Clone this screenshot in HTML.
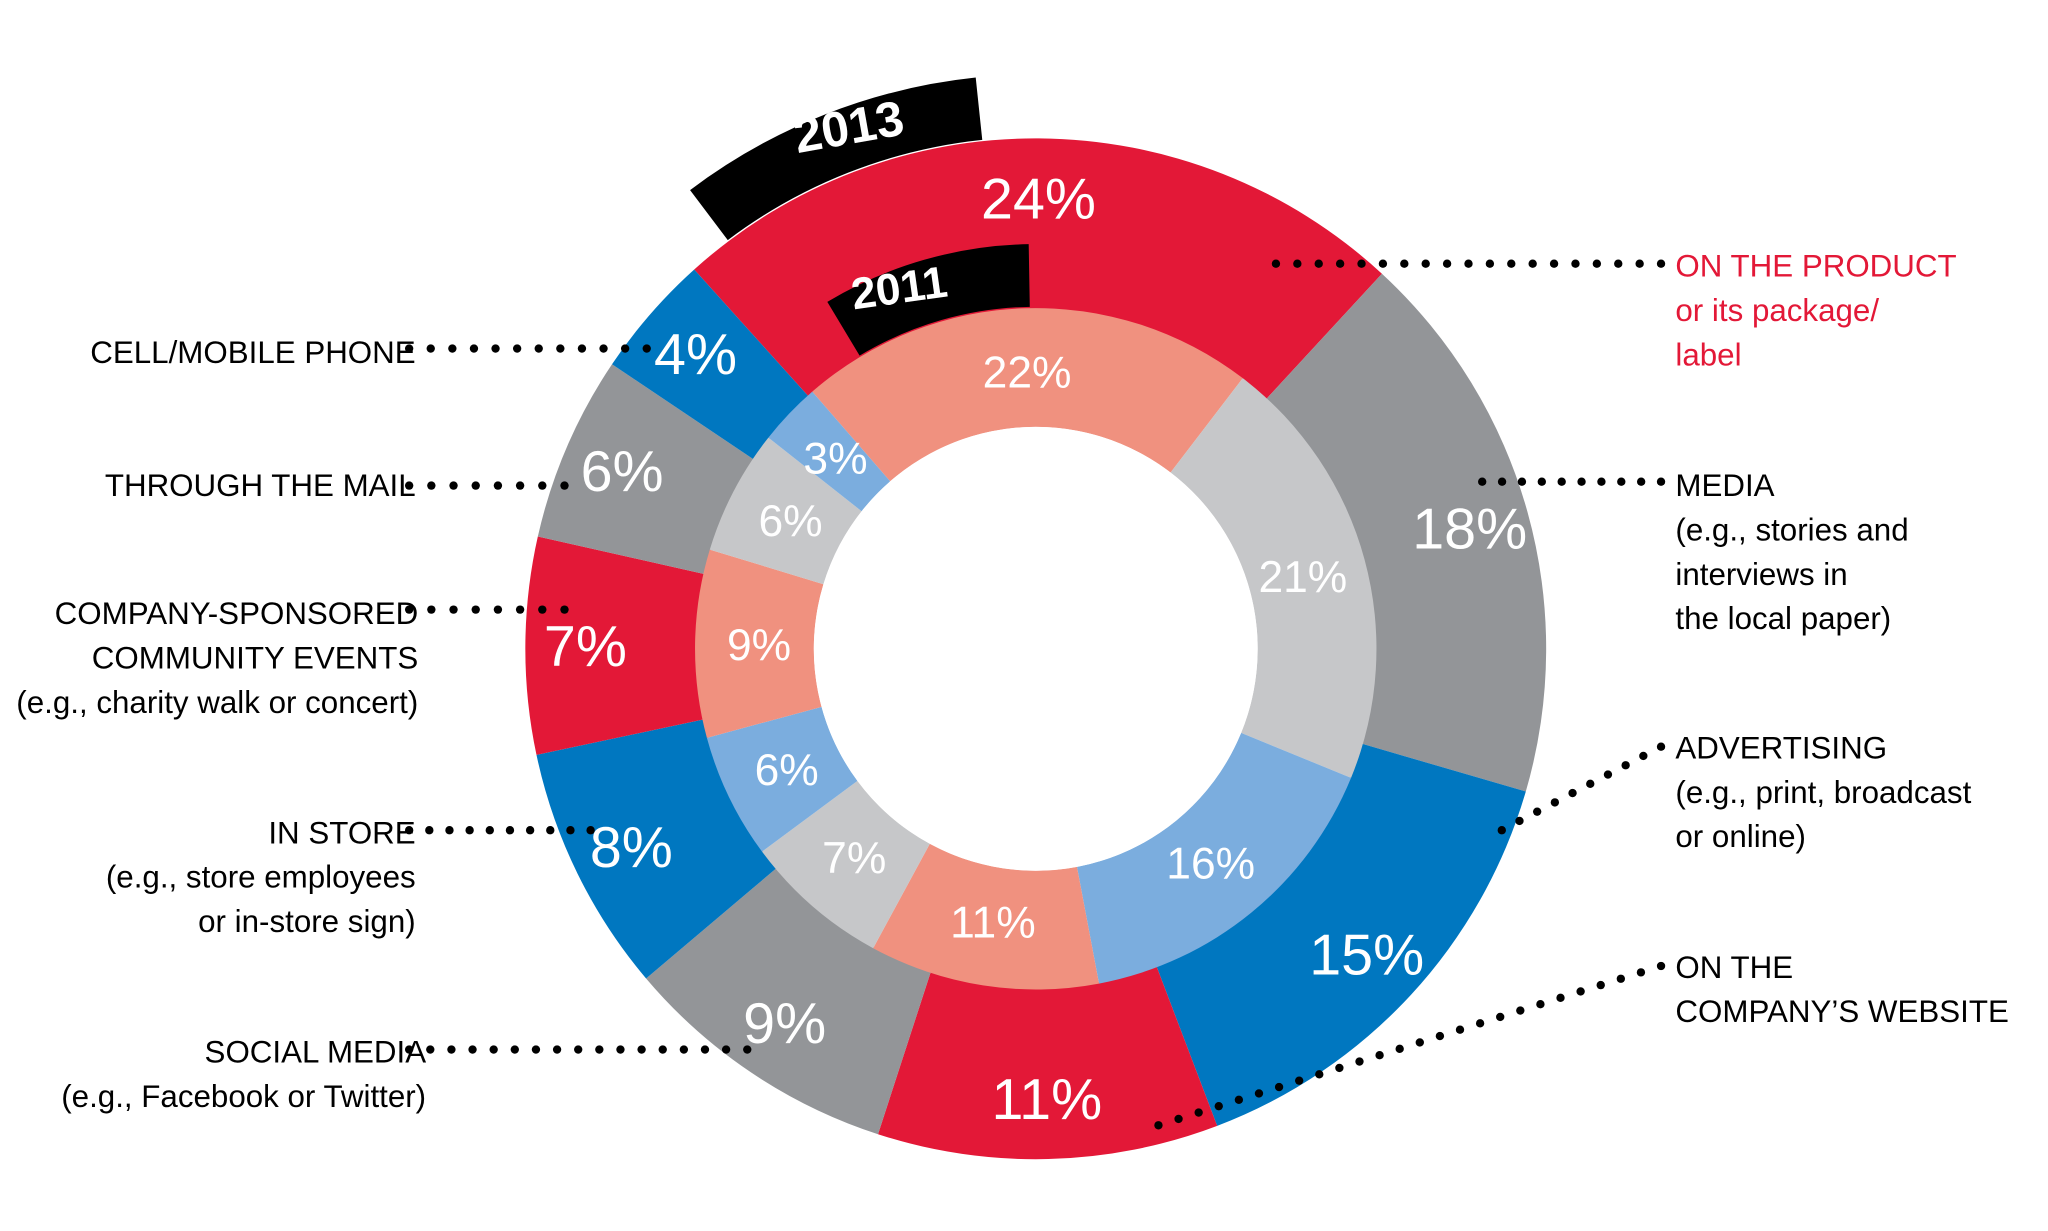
<!DOCTYPE html>
<html><head><meta charset="utf-8"><style>
html,body{margin:0;padding:0;background:#fff}
svg{display:block}
text{font-family:"Liberation Sans",sans-serif}
</style></head><body>
<svg id="chart" width="2048" height="1231" viewBox="0 0 1568 943" xmlns="http://www.w3.org/2000/svg">
<g id="rings"></g>
<g id="tabs"></g>
<g id="labels"></g>
<g id="callouts"></g>
</svg>
<script>
const categories=["ON THE PRODUCT","MEDIA","ADVERTISING","ON THE COMPANY'S WEBSITE","SOCIAL MEDIA","IN STORE","COMMUNITY EVENTS","THROUGH THE MAIL","CELL/MOBILE PHONE"];
const values2013=[24,18,15,11,9,8,7,6,4];
const values2011=[22,21,16,11,7,6,9,6,3];
const outerColors=["#e31837","#939598","#0077c0"];
const innerColors=["#f0917f","#c6c7c9","#7badde"];
const NS="http://www.w3.org/2000/svg";
const cx=793,cy=497;
function pt(r,a){const t=a*Math.PI/180;return [cx+r*Math.sin(t),cy-r*Math.cos(t)];}
function arc(r0,r1,a0,a1){const l=(a1-a0)>180?1:0;const p=pt(r1,a0),q=pt(r1,a1),s=pt(r0,a1),u=pt(r0,a0);
return `M${p[0]},${p[1]}A${r1},${r1} 0 ${l} 1 ${q[0]},${q[1]}L${s[0]},${s[1]}A${r0},${r0} 0 ${l} 0 ${u[0]},${u[1]}Z`;}
function mk(tag,attrs,parent){const e=document.createElementNS(NS,tag);for(const k in attrs)e.setAttribute(k,attrs[k]);parent.appendChild(e);return e;}
const rings=document.getElementById('rings'),labels=document.getElementById('labels');
function ring(vals,cols,r0,r1,start,lr,fs,name){
 const tot=vals.reduce((a,b)=>a+b,0);let a=start;
 vals.forEach((v,i)=>{const span=v/tot*360;
  const p=mk('path',{d:arc(r0,r1,a,a+span),fill:cols[i%3]},rings);
  
  
  const m=pt(lr,a+span/2);
  const t=mk('text',{x:m[0],y:m[1]+fs*0.35,'text-anchor':'middle',fill:'#fff','font-size':fs},labels);
  t.textContent=v+'%';
  
  
  a+=span;});
}
ring(values2013,outerColors,260,391,-42,345,44,'outer-2013');
ring(values2011,innerColors,170,261,-41,212,34,'inner-2011');
mk('circle',{cx:cx,cy:cy,r:170,fill:'#fff'},rings);
const tabs=document.getElementById('tabs');
let t1=mk('path',{d:arc(392,440,-37,-6),fill:'#000'},tabs);

let t2=mk('path',{d:arc(262,310,-31,-1),fill:'#000'},tabs);

[[ '2013',652,110,-10,38],['2011',690,232,-8,34]].forEach(d=>{const t=mk('text',{x:d[1],y:d[2],'text-anchor':'middle',fill:'#fff','font-size':d[4],'font-weight':'bold',transform:`rotate(${d[3]} ${d[1]} ${d[2]})`},tabs);t.textContent=d[0];
});
const co=document.getElementById('callouts');
const lines=[[313,267,495,267],[313,372,432,372],[313,467,432,467],[313,636,452,636],[313,804,572,804],[977,202,1272,202],[1135,369,1272,369],[1150,636,1272,572],[887,862,1272,740]];
lines.forEach(l=>{const len=Math.hypot(l[2]-l[0],l[3]-l[1]);const n=Math.round(len/16);
 for(let i=0;i<=n;i++){const c=mk('circle',{cx:l[0]+(l[2]-l[0])*i/n,cy:l[1]+(l[3]-l[1])*i/n,r:3.2,fill:'#000'},co);
 }});
const texts=[
 [["CELL/MOBILE PHONE"],318,278,'end','#000'],
 [["THROUGH THE MAIL"],318,380,'end','#000'],
 [["COMPANY-SPONSORED","COMMUNITY EVENTS","(e.g., charity walk or concert)"],320,478,'end','#000'],
 [["IN STORE","(e.g., store employees","or in-store sign)"],318,646,'end','#000'],
 [["SOCIAL MEDIA","(e.g., Facebook or Twitter)"],326,814,'end','#000'],
 [["ON THE PRODUCT","or its package/","label"],1283,212,'start','#e31837'],
 [["MEDIA","(e.g., stories and","interviews in","the local paper)"],1283,380,'start','#000'],
 [["ADVERTISING","(e.g., print, broadcast","or online)"],1283,581,'start','#000'],
 [["ON THE","COMPANY\u2019S WEBSITE"],1283,749,'start','#000']];
texts.forEach(d=>{const t=mk('text',{x:d[1],y:d[2],'text-anchor':d[3],fill:d[4],'font-size':24},co);
 
 d[0].forEach((s,i)=>{const ts=mk('tspan',{x:d[1],dy:i?34:0},t);ts.textContent=s;});});
</script>
</body></html>
